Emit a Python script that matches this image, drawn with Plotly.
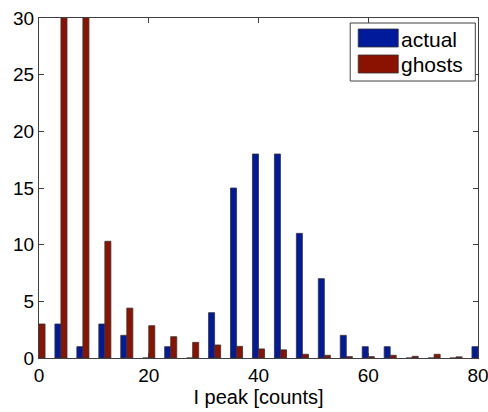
import plotly.graph_objects as go

centers = [0, 4, 8, 12, 16, 20, 24, 28, 32, 36, 40, 44, 48, 52, 56, 60, 64, 68, 72, 76, 80]
actual = [0, 3, 1, 3, 2, 0, 1, 0, 4, 15, 18, 18, 11, 7, 2, 1, 1, 0, 0, 0, 1]
ghosts = [3, 45, 38, 10.3, 4.4, 2.85, 1.88, 1.38, 1.15, 1.03, 0.8, 0.72, 0.33, 0.24, 0.12, 0.12, 0.24, 0.15, 0.33, 0.1, 0.1]
series_names = ["actual", "ghosts"]
colors = ["#001A9C", "#8C1200"]

fig = go.Figure()
for name, vals, col in zip(series_names, [actual, ghosts], colors):
    fig.add_trace(go.Bar(x=centers, y=vals, name=name, marker=dict(color=col, line=dict(color="#333333", width=0.8)),
                         showlegend=False))

font = "Liberation Sans, Arial, sans-serif"
L, R, T, B = 39, 477.7, 18, 358
W, H = 488, 412

def px(x):
    return (x - L) / (R - L)

def py(y):
    return (B - y) / (B - T)

shapes = [dict(type="rect", xref="paper", yref="paper", x0=px(350), x1=px(475), y0=py(81), y1=py(23),
               line=dict(color="#404040", width=1), fillcolor="white", layer="above")]
annotations = []
for i, (name, col) in enumerate(zip(series_names, colors)):
    yc = 38 + i * 26
    shapes.append(dict(type="rect", xref="paper", yref="paper", x0=px(358), x1=px(398), y0=py(yc + 9), y1=py(yc - 9),
                       line=dict(color="#333333", width=0.8), fillcolor=col, layer="above"))
    annotations.append(dict(xref="paper", yref="paper", x=px(399), y=py(yc + 1), text=name, showarrow=False,
                            xanchor="left", yanchor="middle", font=dict(family=font, size=21, color="black")))

fig.update_layout(
    width=W, height=H,
    margin=dict(l=L, r=W - R, t=T, b=H - B),
    paper_bgcolor="white", plot_bgcolor="white",
    barmode="group", bargap=0.45, bargroupgap=0,
    font=dict(family=font, size=19, color="black"),
    shapes=shapes, annotations=annotations,
)
axis_common = dict(showline=True, linecolor="#404040", linewidth=1, mirror="ticks", ticks="inside",
                   ticklen=5, tickcolor="#404040", showgrid=False, zeroline=False, automargin=False,
                   ticklabeloverflow="allow",
                   tickfont=dict(family=font, size=19, color="black"))
fig.update_xaxes(range=[0, 80], tickvals=[0, 20, 40, 60, 80], title=dict(text="I peak [counts]", standoff=2,
                 font=dict(family=font, size=20, color="black")), **axis_common)
fig.update_yaxes(range=[0, 30], tickvals=[0, 5, 10, 15, 20, 25, 30], **axis_common)

fig.write_html("out.html")
